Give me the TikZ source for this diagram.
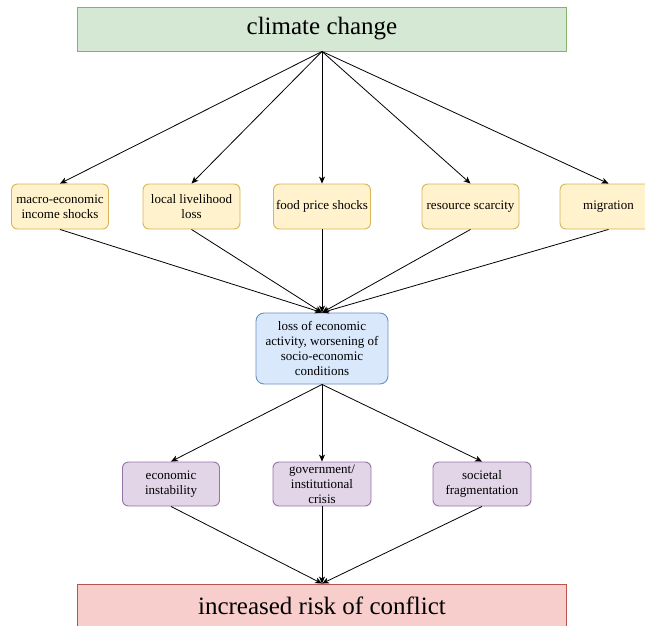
\documentclass[tikz,border=0pt]{standalone}
\usepackage{fontspec}
\setmainfont{Liberation Serif}
\usetikzlibrary{arrows.meta}

\definecolor{greenfill}{HTML}{D5E8D4}\definecolor{greenline}{HTML}{82B366}
\definecolor{yellowfill}{HTML}{FFF2CC}\definecolor{yellowline}{HTML}{D6B656}
\definecolor{bluefill}{HTML}{DAE8FC}\definecolor{blueline}{HTML}{6C8EBF}
\definecolor{purplefill}{HTML}{E1D5E7}\definecolor{purpleline}{HTML}{9673A6}
\definecolor{redfill}{HTML}{F8CECC}\definecolor{redline}{HTML}{B85450}

\tikzset{
  banner/.style={draw, line width=0.9pt, minimum width=489pt, minimum height=44pt,
    inner sep=0pt, font=\fontsize{25}{28}\selectfont},
  cause/.style={draw=yellowline, fill=yellowfill, line width=0.9pt, rounded corners=6pt,
    minimum width=97pt, minimum height=45pt, inner sep=0pt, align=center,
    font=\fontsize{13}{15}\selectfont},
  hub/.style={draw=blueline, fill=bluefill, line width=0.9pt, rounded corners=8pt,
    minimum width=132pt, minimum height=71pt, inner sep=0pt, align=center,
    font=\fontsize{13}{15}\selectfont},
  effect/.style={draw=purpleline, fill=purplefill, line width=0.9pt, rounded corners=6pt,
    minimum width=97pt, minimum height=44pt, inner sep=0pt, align=center,
    font=\fontsize{13}{15}\selectfont},
  link/.style={line width=0.8pt, -{Stealth[length=7pt,width=6pt,inset=2pt]}}
}

\begin{document}
\begin{tikzpicture}[x=1pt,y=-1pt]
  \useasboundingbox (0,0) rectangle (645,626);
  \clip (0,0) rectangle (645,626);

  % top driver
  \node[banner, draw=greenline, fill=greenfill] (climate) at (322,29) {climate change};

  % first-order impacts
  \node[cause] (macro)    at (60,206.5)    {macro-economic\\income shocks};
  \node[cause] (local)    at (191.5,206.5) {local livelihood\\loss};
  \node[cause] (food)     at (322,206.5)   {food price shocks};
  \node[cause] (resource) at (470.5,206.5) {resource scarcity};
  \node[cause] (migr)     at (608.5,206.5) {migration};

  % aggregated socio-economic effect
  \node[hub] (econ) at (322,348.5) {loss of economic\\activity, worsening of\\socio-economic\\conditions};

  % second-order consequences
  \node[effect] (instab) at (171,484) {economic\\instability};
  \node[effect, minimum width=98pt] (gov) at (322,484) {government/\\institutional\\crisis};
  \node[effect, minimum width=98pt] (frag) at (482,484) {societal\\fragmentation};

  % outcome
  \node[banner, draw=redline, fill=redfill] (conflict) at (322,606) {increased risk of conflict};

  % connectors
  \foreach \n in {macro,local,food,resource,migr} {
    \draw[link] (climate.south) -- (\n.north);
    \draw[link] (\n.south) -- (econ.north);
  }
  \foreach \n in {instab,gov,frag} {
    \draw[link] (econ.south) -- (\n.north);
    \draw[link] (\n.south) -- (conflict.north);
  }
\end{tikzpicture}
\end{document}
